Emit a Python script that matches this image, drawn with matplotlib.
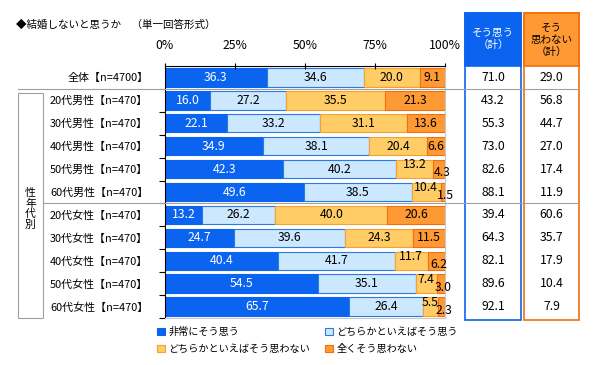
import matplotlib
matplotlib.use("Agg")
import matplotlib.pyplot as plt
from matplotlib.patches import Rectangle
from matplotlib.lines import Line2D
from matplotlib.transforms import blended_transform_factory
import numpy as np

plt.rcParams['font.family'] = ['Noto Sans CJK JP', 'DejaVu Sans']

categories = ["全体【n=4700】",
              "20代男性【n=470】", "30代男性【n=470】", "40代男性【n=470】",
              "50代男性【n=470】", "60代男性【n=470】",
              "20代女性【n=470】", "30代女性【n=470】", "40代女性【n=470】",
              "50代女性【n=470】", "60代女性【n=470】"]
series_names = ["非常にそう思う", "どちらかといえばそう思う",
                "どちらかといえばそう思わない", "全くそう思わない"]
very_yes = [36.3, 16.0, 22.1, 34.9, 42.3, 49.6, 13.2, 24.7, 40.4, 54.5, 65.7]
some_yes = [34.6, 27.2, 33.2, 38.1, 40.2, 38.5, 26.2, 39.6, 41.7, 35.1, 26.4]
some_no = [20.0, 35.5, 31.1, 20.4, 13.2, 10.4, 40.0, 24.3, 11.7, 7.4, 5.5]
not_at_all = [9.1, 21.3, 13.6, 6.6, 4.3, 1.5, 20.6, 11.5, 6.2, 3.0, 2.3]
total_yes = [71.0, 43.2, 55.3, 73.0, 82.6, 88.1, 39.4, 64.3, 82.1, 89.6, 92.1]
total_no = [29.0, 56.8, 44.7, 27.0, 17.4, 11.9, 60.6, 35.7, 17.9, 10.4, 7.9]
xticks = [0, 25, 50, 75, 100]
xtick_labels = ["0%", "25%", "50%", "75%", "100%"]

W, H = 600, 365
fig = plt.figure(figsize=(6, 3.65), dpi=100)
def fx(px): return px / W
def fy(py): return 1 - py / H

ax = fig.add_axes([fx(165), fy(318), fx(445) - fx(165), fy(66) - fy(318)])

fills = ["#0A64F0", "#CCE8FF", "#FFCC66", "#FF9933"]
edges = ["#0A64F0", "#2A7AE0", "#F5A030", "#F07010"]
txtc = ["white", "black", "black", "black"]
y = np.arange(len(categories))
series = [very_yes, some_yes, some_no, not_at_all]
left = np.zeros(len(categories))
handles = []
for k, vals in enumerate(series):
    vals = np.array(vals)
    bc = ax.barh(y, vals, left=left, height=0.8, color=fills[k],
                 edgecolor=edges[k], linewidth=0.8, label=series_names[k])
    handles.append(bc)
    for i, v in enumerate(vals):
        cx = left[i] + v / 2
        dx, dy = 0, 0
        if not_at_all[i] < 6.5:
            if k == 2:
                dy = 3
            elif k == 3:
                dx, dy = 2, -2.5
        ax.annotate(f"{v:.1f}", (cx, y[i]), xytext=(dx, dy),
                    textcoords="offset points", ha="center", va="center",
                    fontsize=8.8, color=txtc[k], annotation_clip=False)
    left += vals

ax.set_xlim(0, 100)
ax.set_ylim(len(categories) - 0.5, -0.5)
ax.xaxis.tick_top()
ax.set_xticks(xticks)
ax.set_xticklabels(xtick_labels, fontsize=8.8)
ax.tick_params(axis='x', direction='inout', length=4, pad=8, width=0.8)
ax.set_yticks(y)
ax.set_yticklabels(categories, fontsize=7.9)
ax.tick_params(axis='y', which='major', length=0, pad=12)
ax.set_yticks(np.arange(len(categories)) + 0.5, minor=True)
ax.tick_params(axis='y', which='minor', direction='out', length=4, width=0.8)
for s in ['left', 'top']:
    ax.spines[s].set_color('black')
    ax.spines[s].set_linewidth(0.8)
for s in ['right', 'bottom']:
    ax.spines[s].set_color('#C8C8C8')
    ax.spines[s].set_linewidth(0.8)

# title
fig.text(fx(16), fy(25), "◆結婚しないと思うか　（単一回答形式）", fontsize=7.6,
         ha="left", va="center")

# separator lines
bt = blended_transform_factory(fig.transFigure, ax.transData)
for yy in [0.5, 5.5]:
    fig.add_artist(Line2D([fx(18) if yy == 0.5 else fx(43), fx(578)], [yy, yy],
                          transform=bt, color="#A0A0A0", linewidth=0.8))

# left group box
fig.add_artist(Rectangle((fx(18), fy(318)), fx(43) - fx(18), fy(93) - fy(318),
                         transform=fig.transFigure, fill=False,
                         edgecolor="#A0A0A0", linewidth=0.8))
fig.text(fx(30.5), fy(209), "性\n年\n代\n別", fontsize=7.8, ha="center",
         va="center", linespacing=1.05)

# right summary boxes
boxes = [(465, 521, "#0A64F0", "#0A64F0", "そう思う\n（計）", "white", total_yes, 39),
         (524, 579, "#FF9933", "#F07010", "そう\n思わない\n（計）", "black", total_no, 40)]
for x0, x1, fc, ec, hdr, hc, vals, hy in boxes:
    fig.add_artist(Rectangle((fx(x0), fy(320)), fx(x1) - fx(x0), fy(13) - fy(320),
                             transform=fig.transFigure, fill=False,
                             edgecolor=ec, linewidth=1.2))
    fig.add_artist(Rectangle((fx(x0), fy(66)), fx(x1) - fx(x0), fy(13) - fy(66),
                             transform=fig.transFigure, facecolor=fc,
                             edgecolor=ec, linewidth=1.2))
    fig.text(fx((x0 + x1) / 2), fy(hy), hdr, fontsize=7.6, color=hc,
             ha="center", va="center", linespacing=1.25)
    for i, v in enumerate(vals):
        fig.text(fx((x0 + x1) / 2), 0, f"{v:.1f}", transform=bt,
                 fontsize=8.8, ha="center", va="center").set_y(y[i])

# legend
order = [0, 2, 1, 3]
leg = fig.legend([handles[i] for i in order], [series_names[i] for i in order],
                 ncol=2, loc="upper left", bbox_to_anchor=(fx(153), fy(323)),
                 fontsize=7.3, frameon=False, handlelength=0.75, handleheight=0.75,
                 handletextpad=0.35, columnspacing=1.5, labelspacing=0.65,
                 borderaxespad=0)

fig.savefig("out.png", dpi=100)
